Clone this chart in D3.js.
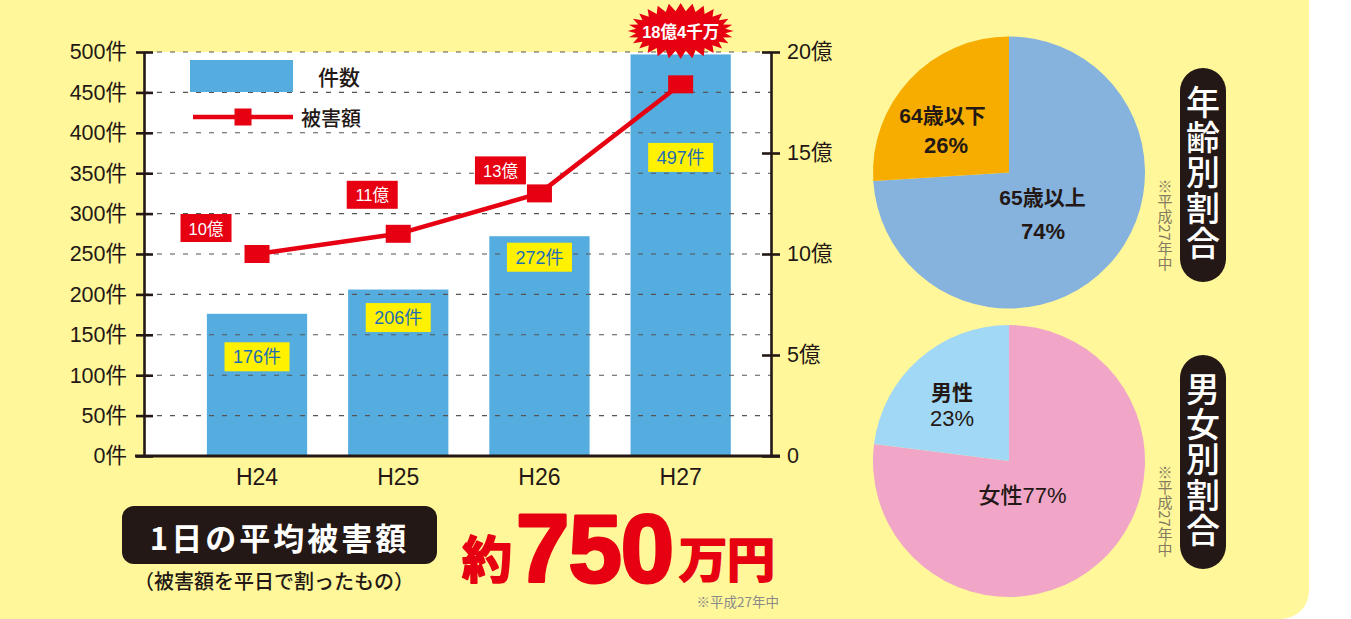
<!DOCTYPE html>
<html lang="ja">
<head>
<meta charset="utf-8">
<script src="https://cdn.jsdelivr.net/npm/d3@7"></script>
<style>
  html, body { margin: 0; padding: 0; background: #fff; }
  svg { display: block; }
</style>
</head>
<body>
<svg id="chart" width="1351" height="619"></svg>
<script>
// ---- データ ----
const years = ["H24", "H25", "H26", "H27"];
const caseCounts = [176, 206, 272, 497];          // 件数
const damageAmounts = [10, 11, 13, 18.4];         // 被害額（億円）
const damageLabels = ["10億", "11億", "13億", "18億4千万"];
const countTicks = [0, 50, 100, 150, 200, 250, 300, 350, 400, 450, 500];
const damageTicks = [0, 5, 10, 15, 20];

const ageGroups = ["65歳以上", "64歳以下"];
const ageShares = [74, 26];
const genderGroups = ["女性", "男性"];
const genderShares = [77, 23];

const dailyAverage = 750;                         // 1日の平均被害額（万円）

// ---- 描画 ----
const W = 1351, H = 619;
const ink = "#231815", red = "#e60012", barBlue = "#55acdf";
const FONT = "'Liberation Sans','Noto Sans CJK JP',sans-serif";
const JFONT = "'Noto Sans CJK JP','Liberation Sans',sans-serif";

const svg = d3.select("#chart");

// 背景パネル（右下角丸）
const pr = 28, pw = 1309;
svg.append("path")
  .attr("d", `M0,0H${pw}V${H - pr}A${pr},${pr} 0 0 1 ${pw - pr},${H}H0Z`)
  .attr("fill", "#fff799");

const plot = { left: 144, right: 771, top: 52, bottom: 456 };

const x = d3.scaleBand().domain(years)
  .range([plot.left, plot.right])
  .paddingInner(0.29).paddingOuter(0.365).align(0.61);
const yCount = d3.scaleLinear().domain([0, 500]).range([plot.bottom, plot.top]);
const yDamage = d3.scaleLinear().domain([0, 20]).range([plot.bottom, plot.top]);
const cx = d => x(d) + x.bandwidth() / 2;

svg.append("rect")
  .attr("x", plot.left).attr("y", plot.top)
  .attr("width", plot.right - plot.left).attr("height", plot.bottom - plot.top)
  .attr("fill", "#fff");

// 件数の棒
svg.append("g").selectAll("rect")
  .data(years)
  .join("rect")
  .attr("x", d => x(d))
  .attr("y", (d, i) => yCount(caseCounts[i]))
  .attr("width", x.bandwidth())
  .attr("height", (d, i) => plot.bottom - yCount(caseCounts[i]))
  .attr("fill", barBlue);

// 破線の目盛線
svg.append("g").selectAll("line")
  .data(countTicks.filter(v => v > 0))
  .join("line")
  .attr("x1", plot.left).attr("x2", plot.right)
  .attr("y1", d => yCount(d)).attr("y2", d => yCount(d))
  .attr("stroke", "#555").attr("stroke-width", 1.1)
  .attr("stroke-dasharray", "5,8");

// 左軸（件数）
const axL = svg.append("g")
  .attr("transform", `translate(${plot.left},0)`)
  .call(d3.axisLeft(yCount).tickValues(countTicks).tickFormat(d => d + "件")
    .tickSizeInner(8).tickSizeOuter(0).tickPadding(9));
axL.select(".domain").attr("stroke", ink).attr("stroke-width", 2.6);
axL.selectAll(".tick line").attr("x1", 9).attr("stroke", ink).attr("stroke-width", 2.6);
axL.selectAll(".tick text").attr("fill", ink)
  .style("font-family", FONT).style("font-size", "21.5px");

// 右軸（被害額）
const axR = svg.append("g")
  .attr("transform", `translate(${plot.right},0)`)
  .call(d3.axisRight(yDamage).tickValues(damageTicks).tickFormat(d => d === 0 ? "0" : d + "億")
    .tickSizeInner(9).tickSizeOuter(0).tickPadding(7));
axR.select(".domain").attr("stroke", ink).attr("stroke-width", 2.6);
axR.selectAll(".tick line").attr("x1", -9).attr("stroke", ink).attr("stroke-width", 2.6);
axR.selectAll(".tick text").attr("fill", ink)
  .style("font-family", FONT).style("font-size", "21.5px");

// 下軸
const axB = svg.append("g")
  .attr("transform", `translate(0,${plot.bottom})`)
  .call(d3.axisBottom(x).tickSize(0).tickPadding(13));
axB.select(".domain").remove();
axB.selectAll(".tick text").attr("fill", ink)
  .style("font-family", FONT).style("font-size", "23px");
svg.append("line")
  .attr("x1", plot.left - 9).attr("x2", plot.right + 9)
  .attr("y1", plot.bottom).attr("y2", plot.bottom)
  .attr("stroke", ink).attr("stroke-width", 3);

// 件数ラベル（黄色の札）
const countLabelDrop = [43, 28, 21, 103];
const cl = svg.append("g").selectAll("g")
  .data(years)
  .join("g")
  .attr("transform", (d, i) => `translate(${cx(d)},${yCount(caseCounts[i]) + countLabelDrop[i]})`);
cl.append("rect").attr("x", -32.5).attr("y", -14.5).attr("width", 65).attr("height", 29).attr("fill", "#fff100");
cl.append("text")
  .attr("text-anchor", "middle").attr("dominant-baseline", "central").attr("y", 0.5)
  .attr("fill", "#1c6db5")
  .style("font-family", FONT).style("font-size", "18px")
  .text((d, i) => caseCounts[i] + "件");

// 被害額の折れ線
const pts = years.map((d, i) => [cx(d), yDamage(damageAmounts[i])]);
svg.append("path")
  .attr("d", d3.line()(pts))
  .attr("fill", "none").attr("stroke", red).attr("stroke-width", 4.5)
  .attr("stroke-linejoin", "round");
svg.append("g").selectAll("rect")
  .data(pts)
  .join("rect")
  .attr("x", d => d[0] - 12.5).attr("y", d => d[1] - 9)
  .attr("width", 25).attr("height", 18)
  .attr("fill", red);

// 被害額ラベル（赤い札）
const damageLabelShift = [[-51, -26], [-26, -39], [-39, -23]];
const dl = svg.append("g").selectAll("g")
  .data(damageLabelShift)
  .join("g")
  .attr("transform", (s, i) => `translate(${pts[i][0] + s[0]},${pts[i][1] + s[1]})`);
dl.append("rect").attr("x", -25.5).attr("y", -14).attr("width", 51).attr("height", 28).attr("fill", red);
dl.append("text")
  .attr("text-anchor", "middle").attr("dominant-baseline", "central").attr("y", 0.5)
  .attr("fill", "#fff")
  .style("font-family", FONT).style("font-size", "16.5px")
  .text((s, i) => damageLabels[i]);

// 最新年の吹き出し（ギザギザ）
function burst(bx, by, n, rxo, ryo, rxi, ryi) {
  const p = [];
  for (let k = 0; k < 2 * n; k++) {
    const a = Math.PI * k / n - Math.PI / 2;
    const o = k % 2 === 0;
    p.push([bx + (o ? rxo : rxi) * Math.cos(a), by + (o ? ryo : ryi) * Math.sin(a)]);
  }
  return d3.line()(p) + "Z";
}
const last = years.length - 1;
const bx = pts[last][0], by = yDamage(20) - 21;
svg.append("path").attr("d", burst(bx, by, 28, 53, 28, 45, 20)).attr("fill", red);
svg.append("text")
  .attr("x", bx).attr("y", by + 1)
  .attr("text-anchor", "middle").attr("dominant-baseline", "central")
  .attr("fill", "#fff")
  .style("font-family", FONT).style("font-size", "16.5px").style("font-weight", "bold")
  .text(damageLabels[last]);

// 凡例
svg.append("rect").attr("x", 190).attr("y", 60).attr("width", 103).attr("height", 32).attr("fill", barBlue);
svg.append("text").attr("x", 318).attr("y", 76).attr("dominant-baseline", "central")
  .attr("fill", ink).style("font-family", JFONT).style("font-size", "21px").style("font-weight", 500)
  .text("件数");
svg.append("line").attr("x1", 193).attr("x2", 293).attr("y1", 117).attr("y2", 117)
  .attr("stroke", red).attr("stroke-width", 4.5);
svg.append("rect").attr("x", 234.5).attr("y", 108.5).attr("width", 17).attr("height", 17).attr("fill", red);
svg.append("text").attr("x", 301).attr("y", 117).attr("dominant-baseline", "central")
  .attr("fill", ink).style("font-family", JFONT).style("font-size", "20px").style("font-weight", 500)
  .text("被害額");

// ---- 円グラフ ----
const pie = d3.pie().sort(null).value(d => d);
const arc = d3.arc().innerRadius(0).outerRadius(136);

function drawPie(center, shares, colors) {
  const g = svg.append("g").attr("transform", `translate(${center[0]},${center[1]})`);
  g.selectAll("path")
    .data(pie(shares))
    .join("path")
    .attr("d", arc)
    .attr("fill", (d, i) => colors[i]);
  return g;
}
function pieText(g, dx, dy, str, size, weight) {
  g.append("text")
    .attr("x", dx).attr("y", dy)
    .attr("text-anchor", "middle").attr("dominant-baseline", "central")
    .attr("fill", ink)
    .style("font-family", FONT).style("font-size", size + "px").style("font-weight", weight)
    .text(str);
}

const ageG = drawPie([1009, 172.5], ageShares, ["#86b2de", "#f6ad00"]);
pieText(ageG, 33.5, 24.5, ageGroups[0], 21, "bold");
pieText(ageG, 34, 59, ageShares[0] + "%", 22, "bold");
pieText(ageG, -66.5, -57.5, ageGroups[1], 21, "bold");
pieText(ageG, -63, -27.5, ageShares[1] + "%", 22, "bold");

const genG = drawPie([1009, 461], genderShares, ["#f1a6c7", "#a1d8f5"]);
pieText(genG, 13.5, 34, genderGroups[0] + genderShares[0] + "%", 22, 500);
pieText(genG, -57, -69, genderGroups[1], 21, "bold");
pieText(genG, -57, -43, genderShares[1] + "%", 22, 500);

// 縦書きの見出し
function pill(px, py, title) {
  const g = svg.append("g").attr("transform", `translate(${px},${py})`);
  g.append("rect").attr("x", -23).attr("y", 0).attr("width", 46).attr("height", 214)
    .attr("rx", 23).attr("fill", ink);
  g.append("text")
    .attr("x", 0).attr("y", 105)
    .attr("text-anchor", "middle")
    .attr("fill", "#fff")
    .style("writing-mode", "vertical-rl")
    .style("letter-spacing", "1.3px")
    .style("font-family", JFONT).style("font-size", "34px").style("font-weight", 500)
    .text(title);
}
pill(1203, 68, "年齢別割合");
pill(1203, 355, "男女別割合");

// 縦書きの注記（※平成27年中）
function verticalNote(nx, ny) {
  svg.append("text")
    .attr("x", nx).attr("y", ny)
    .attr("text-anchor", "middle")
    .attr("fill", "#857b60")
    .style("writing-mode", "vertical-rl")
    .style("font-family", JFONT).style("font-size", "15px")
    .text("※平成27年中");
}
verticalNote(1165, 225);
verticalNote(1165, 511);

// ---- 1日の平均被害額 ----
svg.append("rect").attr("x", 122).attr("y", 506).attr("width", 315).attr("height", 58)
  .attr("rx", 12).attr("fill", ink);
svg.append("text").attr("x", 279.5).attr("y", 536)
  .attr("text-anchor", "middle").attr("dominant-baseline", "central")
  .attr("fill", "#fff")
  .style("font-family", JFONT).style("font-size", "31px").style("font-weight", "bold")
  .style("letter-spacing", "3px")
  .text("1日の平均被害額");
svg.append("text").attr("x", 274).attr("y", 580)
  .attr("text-anchor", "middle").attr("dominant-baseline", "central")
  .attr("fill", ink)
  .style("font-family", JFONT).style("font-size", "20px").style("font-weight", 500)
  .text("（被害額を平日で割ったもの）");

const big = svg.append("g").attr("fill", red).attr("stroke", red).attr("stroke-linejoin", "round");
big.append("text").attr("x", 462).attr("y", 578)
  .attr("stroke-width", 2)
  .style("font-family", JFONT).style("font-size", "50px").style("font-weight", "bold")
  .text("約");
big.append("text").attr("x", 516).attr("y", 582)
  .attr("stroke-width", 3)
  .style("font-family", FONT).style("font-size", "96px").style("font-weight", "bold")
  .style("letter-spacing", "-1px")
  .text(String(dailyAverage));
big.append("text").attr("x", 679).attr("y", 577)
  .attr("stroke-width", 2)
  .style("font-family", JFONT).style("font-size", "48px").style("font-weight", "bold")
  .text("万円");

svg.append("text").attr("x", 779).attr("y", 601)
  .attr("text-anchor", "end").attr("dominant-baseline", "central")
  .attr("fill", "#8a8a8a")
  .style("font-family", JFONT).style("font-size", "13.5px")
  .text("※平成27年中");
</script>
</body>
</html>
